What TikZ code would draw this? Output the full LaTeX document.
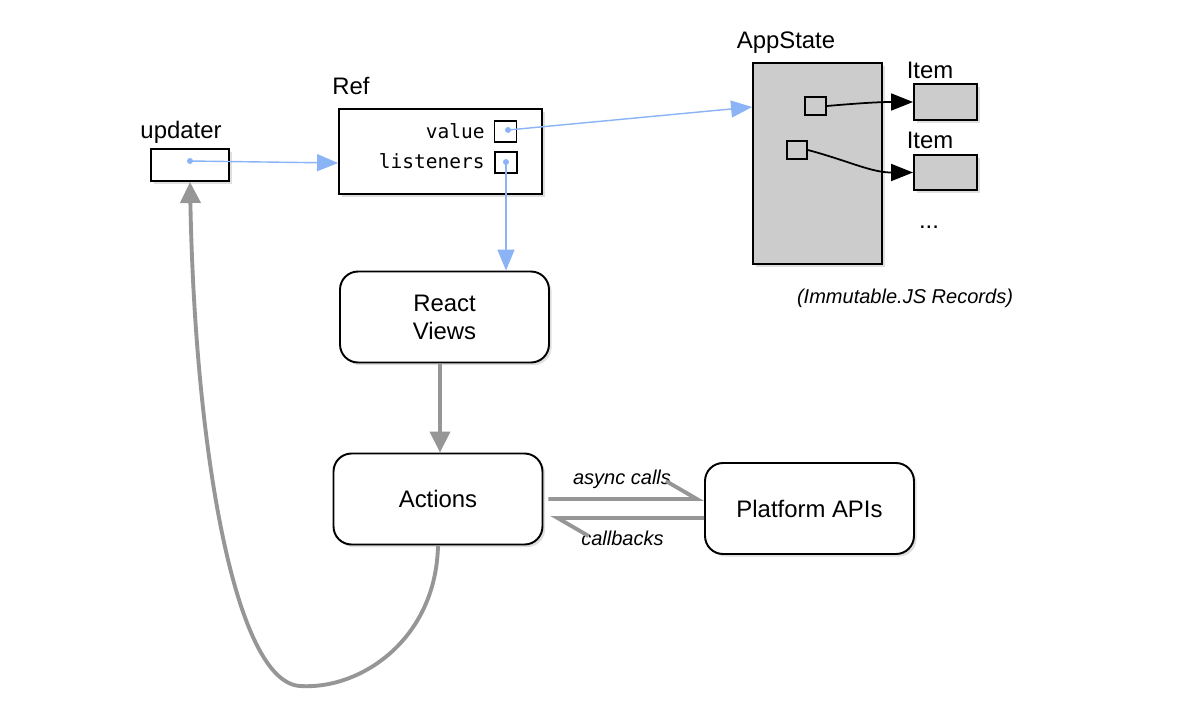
\documentclass[tikz,border=0pt]{standalone}
\usepackage{fontspec}
\setmainfont{Liberation Sans}
\setmonofont{DejaVu Sans Mono}
\usepackage{xcolor}
\usetikzlibrary{arrows.meta, shadows}
\definecolor{refblue}{RGB}{138,180,245}
\definecolor{flowgray}{RGB}{150,150,150}
\definecolor{stategray}{RGB}{204,204,204}
\newcommand{\boxfont}{\fontsize{13.6}{16}\selectfont}
\newcommand{\notefont}{\fontsize{11.4}{13}\selectfont\itshape}
\newcommand{\codefont}{\ttfamily\fontsize{11.1}{13}\selectfont}

\begin{document}
\begin{tikzpicture}[x=0.02cm, y=-0.02cm,
    box/.style = {draw, line width=1.1pt, fill=white, inner sep=0pt,
                  drop shadow={shadow xshift=1.5pt, shadow yshift=-1.5pt, opacity=0.25}},
    roundbox/.style = {box, rounded corners=0.36cm, minimum width=4.18cm,
                       minimum height=1.82cm, align=center, font=\boxfont},
    slot/.style = {draw, line width=1pt, minimum width=0.44cm, minimum height=0.42cm, inner sep=0pt},
    dot/.style = {circle, fill=refblue, inner sep=0pt, minimum size=0.12cm},
    boxlabel/.style = {anchor=base, font=\boxfont, inner sep=0pt},
    note/.style = {anchor=base, font=\notefont, inner sep=0pt},
    ptr/.style = {refblue, line width=0.8pt, -{Triangle[length=0.42cm, width=0.34cm]}},
    link/.style = {black, line width=1pt, -{Triangle[length=0.44cm, width=0.34cm]}},
    flow/.style = {flowgray, line width=2.2pt, -{Triangle[length=0.42cm, width=0.4cm]}},
    half/.style = {flowgray, line width=2.2pt, -{Straight Barb[left, length=0.62cm, width=0.72cm]}}
  ]
  % Cornice
  \path[use as bounding box, fill=white] (0,0) rectangle (1200,700);
  % updater
  \node[box, minimum width=1.56cm, minimum height=0.64cm] (updater) at (190,165) {};
  \node[boxlabel] (updlbl) at (181,138) {updater};
  \node[dot] (upddot) at (190,161) {};
  % Ref
  \node[box, minimum width=4.06cm, minimum height=1.7cm] (ref) at (440.5,151.5) {};
  \node[boxlabel] (reflbl) at (351,94) {Ref};
  \node[slot] (valslot) at (505.5,131.5) {};
  \node[slot] (lstslot) at (506,162.5) {};
  \node[anchor=base east, font=\codefont, inner sep=0pt] (valtxt) at (485,138) {value};
  \node[anchor=base east, font=\codefont, inner sep=0pt] (lsttxt) at (485,168) {listeners};
  \node[dot] (valdot) at (508,130) {};
  \node[dot] (lstdot) at (506,162) {};
  % AppState e Item
  \node[box, fill=stategray, minimum width=2.58cm, minimum height=4.02cm] (appstate) at (817.5,163.5) {};
  \node[boxlabel] (applbl) at (786,48) {AppState};
  \node[slot, fill=stategray, minimum width=0.42cm, minimum height=0.36cm] (ptra) at (815.5,106) {};
  \node[slot, fill=stategray, minimum width=0.4cm, minimum height=0.36cm] (ptrb) at (797,150) {};
  \node[box, fill=stategray, minimum width=1.26cm, minimum height=0.72cm] (itema) at (945.5,102) {};
  \node[boxlabel] (itemalbl) at (930,78) {Item};
  \node[box, fill=stategray, minimum width=1.26cm, minimum height=0.7cm] (itemb) at (945.5,172.5) {};
  \node[boxlabel] (itemblbl) at (930,148) {Item};
  \node[boxlabel] (more) at (929,228) {...};
  \node[note] (immlbl) at (905,303) {(Immutable.JS Records)};
  % Views, Actions, Platform
  \node[roundbox] (views) at (444.5,317) {React\\Views};
  \node[roundbox] (actions) at (438,499) {Actions};
  \node[roundbox] (platform) at (809.5,508.5) {Platform APIs};
  \node[note] (asynclbl) at (622,484) {async calls};
  \node[note] (cblbl) at (622.5,545) {callbacks};

  % frecce blu
  \draw[ptr] (upddot.center) -- ([yshift=-0.23cm]ref.west);
  \draw[ptr] (valdot.center) -- ([yshift=1.13cm]appstate.west);
  \draw[ptr] (lstdot.center) -- (lstdot.center |- views.north);
  % puntatori agli Item
  \draw[link] (ptra.east) to[out=5, in=180] (itema.west);
  \draw[link] (ptrb.east) to[out=-15, in=180] (itemb.west);
  % flusso
  \draw[flow] ([xshift=-0.09cm]views.south) -- ([xshift=0.04cm]actions.north);
  \draw[half] ([xshift=0.1cm]actions.east) -- ([yshift=0.19cm]platform.west);
  \draw[half] ([yshift=-0.19cm]platform.west) -- ([xshift=0.14cm, yshift=-0.38cm]actions.east);
  \draw[flow] (actions.south) .. controls (436,640) and (360,690) .. (300,686)
    .. controls (235,682) and (195,450) .. (updater.south);
\end{tikzpicture}
\end{document}
